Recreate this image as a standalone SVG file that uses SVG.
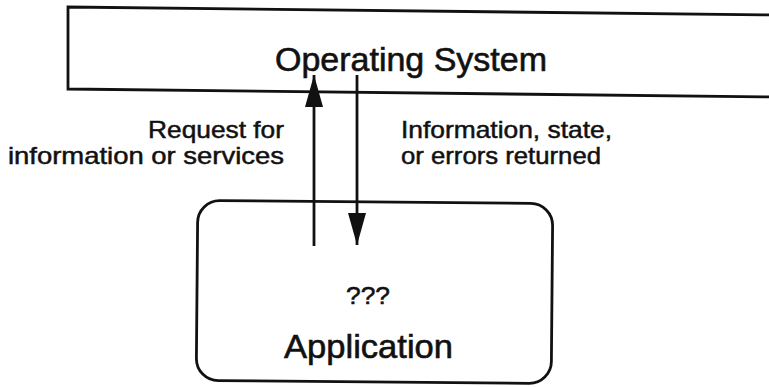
<svg xmlns="http://www.w3.org/2000/svg" width="769" height="387" viewBox="0 0 769 387">
  <style>
    .frame { fill: none; stroke: #111; stroke-width: 2.8; }
    .conn { fill: none; stroke: #111; stroke-width: 2.8; }
    .title { font-family: "Liberation Sans", Arial, Helvetica, sans-serif; font-size: 33px; fill: #111; stroke: #111; stroke-width: 0.6; }
    .label { font-family: "Liberation Sans", Arial, Helvetica, sans-serif; font-size: 24px; fill: #111; stroke: #111; stroke-width: 0.5; }
  </style>
  <defs>
    <marker id="head" markerUnits="userSpaceOnUse" markerWidth="32" markerHeight="18" refX="32" refY="9" orient="auto">
      <path d="M0,0 L32,9 L0,18 Z" fill="#111"/>
    </marker>
  </defs>
  <rect width="769" height="387" fill="#fff"/>

  <!-- Operating system band, running off the right edge -->
  <g id="os">
    <path class="frame" d="M772,15 L68,7 L68,89 L772,97"/>
    <text class="title" x="275" y="71" textLength="272" lengthAdjust="spacingAndGlyphs">Operating System</text>
  </g>

  <!-- Application box -->
  <g id="app">
    <rect class="frame" x="197" y="202" width="355" height="180" rx="22" ry="22" transform="rotate(0.5 375 292)"/>
    <text class="label" x="346" y="304" textLength="44" lengthAdjust="spacingAndGlyphs">???</text>
    <text class="title" x="284" y="358" textLength="169" lengthAdjust="spacingAndGlyphs">Application</text>
  </g>

  <!-- Arrows between application and system -->
  <g id="connectors">
    <line class="conn" x1="314" y1="246" x2="314" y2="75" marker-end="url(#head)"/>
    <line class="conn" x1="357" y1="75" x2="357" y2="245" marker-end="url(#head)"/>
  </g>

  <g id="labels">
    <text class="label" x="148" y="138" textLength="136" lengthAdjust="spacingAndGlyphs">Request for</text>
    <text class="label" x="8" y="164" textLength="276" lengthAdjust="spacingAndGlyphs">information or services</text>
    <text class="label" x="401" y="138" textLength="211" lengthAdjust="spacingAndGlyphs">Information, state,</text>
    <text class="label" x="401" y="164" textLength="200" lengthAdjust="spacingAndGlyphs">or errors returned</text>
  </g>
</svg>
